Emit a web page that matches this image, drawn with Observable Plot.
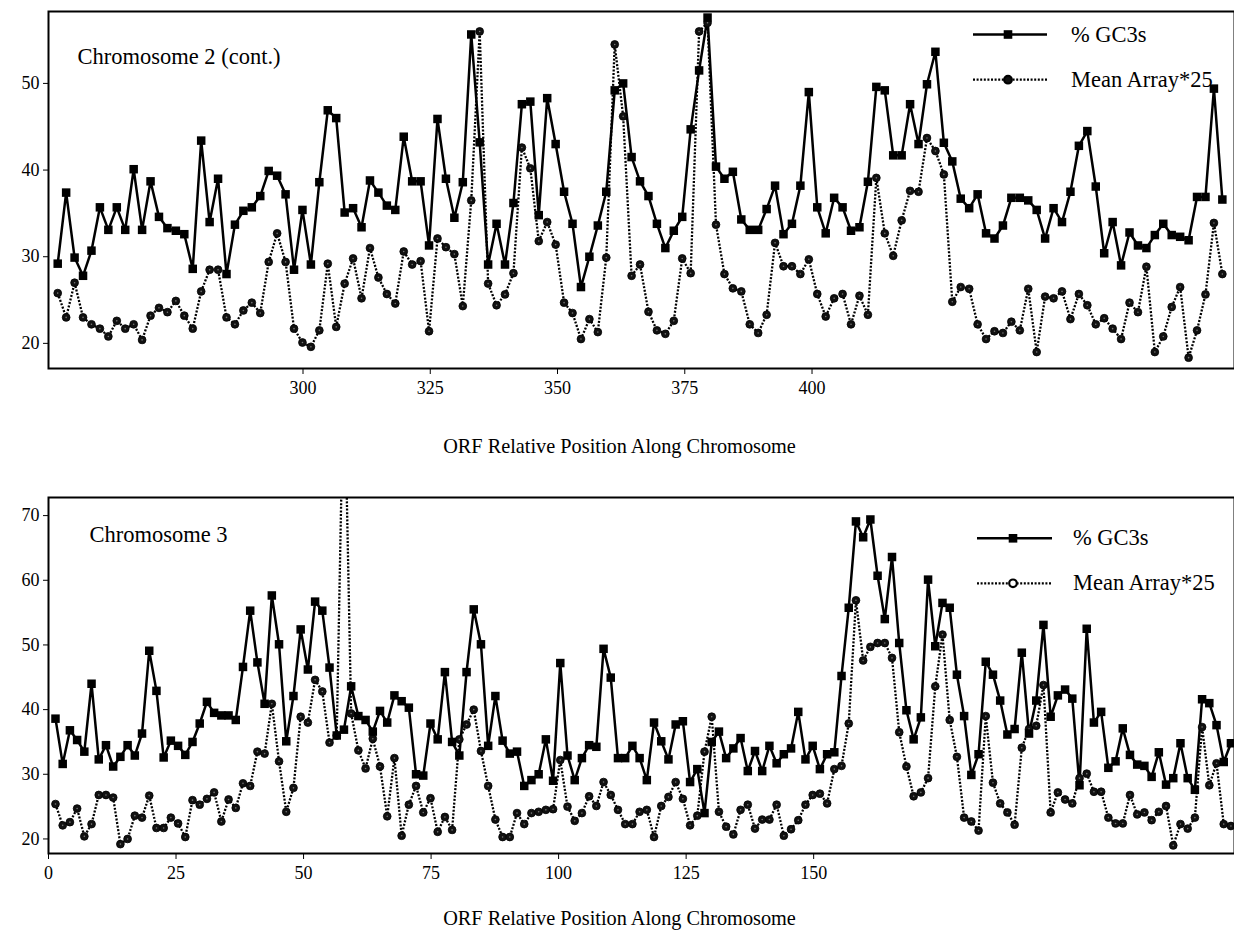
<!DOCTYPE html>
<html><head><meta charset="utf-8">
<script src="https://cdn.jsdelivr.net/npm/d3@7"></script>
<script src="https://cdn.jsdelivr.net/npm/@observablehq/plot@0.6"></script>
<style>
html,body{margin:0;padding:0;background:#fff;}
#wrap{position:relative;width:1234px;height:948px;overflow:hidden;}
.panel{position:relative;width:1234px;}
.panel svg{display:block;}
.legend{position:absolute;left:0;top:0;pointer-events:none;}
</style></head><body><div id="wrap"></div>
<script>
// ---------- data ----------
const topGC3s = [29.2,37.4,29.9,27.8,30.7,35.7,33.1,35.7,33.1,40.1,33.1,38.7,34.6,33.3,33.0,32.6,28.6,43.4,34.0,39.0,28.0,33.7,35.3,
 35.7,37.0,39.9,39.35,37.2,28.5,35.4,29.1,38.6,46.9,46.0,35.1,35.6,33.4,38.8,37.4,35.9,35.4,43.85,38.7,38.7,31.3,45.9,
 39.0,34.5,38.6,55.65,43.2,29.1,33.8,29.1,36.2,47.6,47.9,34.8,48.3,43.0,37.5,33.8,26.5,30.0,33.6,37.5,49.2,50.0,41.5,
 38.7,37.0,33.8,31.0,33.0,34.6,44.7,51.5,57.6,40.4,39.0,39.8,34.3,33.1,33.1,35.5,38.2,32.6,33.8,38.2,49.0,35.7,32.7,
 36.8,35.7,33.0,33.4,38.65,49.6,49.2,41.7,41.7,47.6,43.0,49.9,53.65,43.15,41.0,36.7,35.6,37.2,32.7,32.1,33.6,36.8,36.8,
 36.5,35.4,32.1,35.6,34.0,37.5,42.8,44.5,38.1,30.4,34.0,29.0,32.8,31.3,31.0,32.5,33.8,32.5,32.3,31.9,36.9,36.9,49.4,36.6];
const topMean = [25.8,23.0,27.0,23.0,22.2,21.7,20.8,22.6,21.7,22.2,20.4,23.2,24.1,23.6,24.9,23.2,21.7,26.0,28.5,28.5,23.0,22.2,23.8,
 24.7,23.5,29.4,32.7,29.4,21.7,20.1,19.6,21.5,29.2,21.9,26.9,29.8,25.2,31.0,27.6,25.7,24.6,30.6,29.1,29.5,21.4,32.1,
 31.1,30.3,24.3,36.5,56.0,26.9,24.4,25.65,28.1,42.6,40.2,31.8,34.0,31.4,24.7,23.5,20.5,22.8,21.3,29.9,54.5,46.2,27.8,
 29.1,23.65,21.5,21.1,22.6,29.8,28.1,56.0,57.0,33.7,28.0,26.35,26.0,22.2,21.2,23.3,31.6,28.9,28.9,28.0,29.7,25.7,23.1,
 25.2,25.7,22.2,25.5,23.3,39.1,32.7,30.1,34.2,37.6,37.5,43.7,42.2,39.5,24.8,26.5,26.3,22.2,20.5,21.4,21.2,22.5,21.5,
 26.3,19.0,25.4,25.2,26.0,22.8,25.7,24.4,22.2,22.9,21.7,20.5,24.7,23.6,28.85,19.0,20.8,24.2,26.5,18.35,21.5,25.65,33.9,28.0];
const botGC3s = [38.6,31.6,36.8,35.3,33.5,44.0,32.3,34.5,31.2,32.7,34.5,32.9,36.3,49.1,42.9,32.6,35.2,34.4,33.0,35.0,37.85,41.2,39.5,39.1,39.1,38.4,46.6,
 55.3,47.3,40.9,57.65,50.1,35.1,42.1,52.4,46.2,56.7,55.3,46.5,36.0,36.9,43.6,39.0,38.4,36.6,39.8,38.0,42.2,41.3,40.3,30.0,29.8,37.85,35.4,
 45.8,35.0,32.9,45.8,55.5,50.1,34.4,42.1,35.2,33.2,33.5,28.2,29.1,30.0,35.4,29.0,47.2,32.9,29.1,32.5,34.5,34.25,49.4,44.95,32.5,32.5,34.4,
 32.5,29.1,38.0,35.1,32.3,37.7,38.2,28.8,30.8,24.0,35.0,36.6,32.5,34.0,35.6,30.5,33.6,30.5,34.4,31.7,33.1,34.0,39.65,32.3,34.4,30.8,33.1,
 33.4,45.2,55.75,69.1,66.65,69.4,60.7,54.0,63.6,50.3,39.9,35.4,38.8,60.1,49.8,56.5,55.75,45.4,39.0,29.9,33.1,47.4,45.4,41.4,36.15,37.0,48.8,
 36.3,41.4,53.1,38.9,42.2,43.1,41.7,28.3,52.5,38.0,39.65,31.0,32.0,37.1,33.0,31.5,31.3,29.6,33.4,28.4,29.4,34.8,29.4,27.6,41.6,41.0,37.6,31.9,34.8];
const botMean = [25.4,22.1,22.6,24.7,20.4,22.3,26.8,26.8,26.4,19.2,20.0,23.6,23.3,26.7,21.7,21.7,23.3,22.4,20.3,26.0,25.3,26.2,27.2,22.7,26.1,24.8,28.6,
 28.2,33.5,33.2,40.9,32.0,24.2,27.9,38.9,38.0,44.6,42.8,34.9,36.0,95,39.4,33.7,30.9,35.5,31.2,23.5,32.5,20.5,25.3,28.2,24.1,26.3,21.1,
 23.4,21.4,35.4,37.7,40.0,33.6,28.2,23.0,20.3,20.3,24.0,22.3,24.0,24.2,24.5,24.6,32.2,25.0,22.8,24.0,26.6,25.1,28.8,26.8,24.5,22.3,22.3,
 24.2,24.5,20.3,25.1,26.5,28.8,26.2,22.1,23.6,33.5,38.9,24.2,21.9,20.7,24.5,25.3,21.6,23.0,23.0,25.3,20.5,21.5,22.9,25.3,26.8,27.0,25.5,
 30.8,31.3,37.85,56.9,47.6,49.7,50.3,50.3,48.0,36.5,31.2,26.6,27.2,29.4,43.6,51.6,38.4,32.7,23.3,22.7,21.3,39.0,28.7,25.5,24.1,22.2,34.1,
 37.0,37.5,43.8,24.1,27.2,26.1,25.5,29.4,30.1,27.3,27.3,23.3,22.4,22.4,26.8,23.8,24.1,22.9,24.2,25.1,19.0,22.3,21.6,23.3,37.3,28.3,31.7,22.3,22.0];

const topXTicks = [300, 325, 350, 375, 400];
const topYTicks = [20, 30, 40, 50];
const botXTicks = [0, 25, 50, 75, 100, 125, 150];
const botYTicks = [20, 30, 40, 50, 60, 70];
// ORF position of first point and spacing between consecutive ORFs (axis units)
const topOrf = {start: 251.81, step: 1.658};
const botOrf = {start: 1.37, step: 1.4137};
const seriesNames = ["% GC3s", "Mean Array*25"];
const panelNames = ["Chromosome 2 (cont.)", "Chromosome 3"];
const axisTitle = "ORF Relative Position Along Chromosome";

// ---------- drawing ----------
const FONT = "Liberation Serif, Times New Roman, serif";
const DASH = "2,1.6";
function rows(vals, orf) { return vals.map((v, i) => ({x: orf.start + i * orf.step, y: v})); }

function panel(cfg) {
  const g = rows(cfg.gc, cfg.orf), m = rows(cfg.mean, cfg.orf);
  return Plot.plot({
    width: 1234, height: cfg.height,
    marginLeft: 48, marginRight: 0, marginTop: cfg.marginTop, marginBottom: cfg.marginBottom,
    style: {fontFamily: FONT, fontSize: "18px", color: "#000", background: "#fff"},
    x: {domain: cfg.xDomain, ticks: cfg.xTicks, tickSize: 6, tickPadding: 7, label: null},
    y: {domain: cfg.yDomain, ticks: cfg.yTicks, tickSize: 5, tickPadding: 4, label: null},
    marks: [
      Plot.line(m, {x: "x", y: "y", stroke: "#000", strokeWidth: 2.3, strokeDasharray: DASH,
        strokeLinecap: "butt", strokeLinejoin: "miter", clip: true}),
      Plot.line(g, {x: "x", y: "y", stroke: "#000", strokeWidth: 2.5, clip: true}),
      Plot.dot(m, {x: "x", y: "y", r: 3.9, fill: "#111", stroke: "#000", strokeWidth: 0.8, clip: true}),
      Plot.dot(m, {x: "x", y: "y", r: 0.8, fill: "#777", clip: true}),
      Plot.dot(g, {x: "x", y: "y", symbol: "square", r: 4.8, fill: "#000", clip: true}),
      Plot.frame({stroke: "#000", strokeWidth: 2}),
      Plot.text([cfg.name], {text: d => d, frameAnchor: "top-left", dx: cfg.nameDx, dy: cfg.nameDy,
        textAnchor: "start", fontSize: 22.5, fontFamily: FONT, fill: "#000"}),
      Plot.text([axisTitle], {text: d => d, frameAnchor: "bottom", dx: cfg.titleDx, dy: cfg.titleDy,
        fontSize: 20.3, fontFamily: FONT, fill: "#000"})
    ]
  });
}

function legend(el, L) {
  const svg = d3.select(el).append("svg").attr("class", "legend")
    .attr("width", 1234).attr("height", L.h);
  const g = svg.append("g").attr("font-family", FONT).attr("font-size", 22.5);
  g.append("line").attr("x1", L.x1).attr("x2", L.x2).attr("y1", L.y1).attr("y2", L.y1)
    .attr("stroke", "#000").attr("stroke-width", 2.5);
  g.append("rect").attr("x", L.xm - 4.3).attr("y", L.y1 - 4.3).attr("width", 8.6).attr("height", 8.6).attr("fill", "#000");
  g.append("text").attr("x", L.tx).attr("y", L.y1 + 7).text(seriesNames[0]);
  g.append("line").attr("x1", L.x1).attr("x2", L.x2).attr("y1", L.y2).attr("y2", L.y2)
    .attr("stroke", "#000").attr("stroke-width", 2.3).attr("stroke-dasharray", DASH);
  g.append("circle").attr("cx", L.xm).attr("cy", L.y2).attr("r", 3.8).attr("fill", L.openCircle ? "#fff" : "#111")
    .attr("stroke", "#000").attr("stroke-width", 2.2);
  g.append("text").attr("x", L.tx).attr("y", L.y2 + 7).text(seriesNames[1]);
}

const wrap = document.getElementById("wrap");

const p1 = document.createElement("div"); p1.className = "panel"; wrap.appendChild(p1);
p1.appendChild(panel({gc: topGC3s, mean: topMean, orf: topOrf, xTicks: topXTicks, yTicks: topYTicks,
  xDomain: [250, 483], yDomain: [17.1, 58.3], height: 470, marginTop: 11, marginBottom: 102,
  name: panelNames[0], nameDx: 29, nameDy: 36.5, titleDx: -22, titleDy: 84}));
legend(p1, {h: 470, x1: 973, x2: 1047, xm: 1008, y1: 34.5, y2: 79.7, tx: 1071});

const p2 = document.createElement("div"); p2.className = "panel"; wrap.appendChild(p2);
p2.appendChild(panel({gc: botGC3s, mean: botMean, orf: botOrf, xTicks: botXTicks, yTicks: botYTicks,
  xDomain: [0, 232.5], yDomain: [17.75, 72.8], height: 478, marginTop: 27, marginBottom: 95,
  name: panelNames[1], nameDx: 41, nameDy: 29, titleDx: -22, titleDy: 71}));
legend(p2, {h: 478, x1: 977, x2: 1052, xm: 1013, y1: 68.3, y2: 113.3, tx: 1073, openCircle: true});
</script></body></html>
